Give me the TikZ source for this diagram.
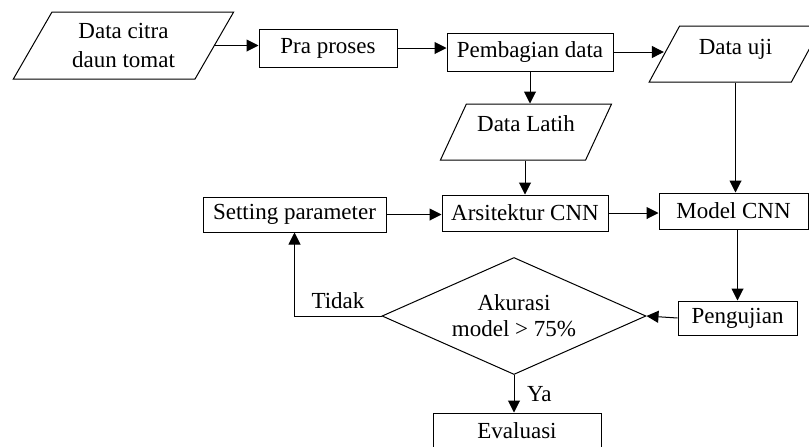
\documentclass[tikz,border=0pt]{standalone}
\usepackage{fontspec}
\setmainfont{Liberation Serif}
\usetikzlibrary{
  arrows.meta,
  shapes.geometric,
  calc
}
\tikzset{
  procnode/.style={draw,rectangle,inner sep=0pt,minimum height=18pt,align=center},
  ionode/.style={draw,trapezium,trapezium left angle=58,trapezium right angle=122,trapezium stretches=true,inner sep=0pt,minimum height=28pt,align=center},
  decnode/.style={draw,diamond,aspect=2.26,inner sep=0pt,align=center},
  flowarrow/.style={-{Triangle[length=6pt,width=6pt]},line width=0.5pt}
}

\begin{document}
\begin{tikzpicture}[x=0.5pt,y=-0.5pt,line width=0.5pt,font=\fontsize{11.5}{14.5}\selectfont]
\clip (0,0) rectangle (809,446);

% top row
\node[ionode, minimum width=110.5pt, minimum height=33.5pt] (citra) at (123.5,45.5) {Data citra\\daun tomat};
\node[procnode, minimum width=69pt, minimum height=19pt] (pra) at (328,48) {Pra proses};
\node[procnode, minimum width=83pt, minimum height=19pt] (bagi) at (530,52) {Pembagian data};
\node[ionode, minimum width=86.5pt, text height=8pt, text depth=8pt] (uji) at (735.5,54) {Data uji};
\node[ionode, minimum width=86pt, text height=8pt, text depth=9pt] (latih) at (526,132) {Data Latih};

% middle row
\node[procnode, minimum width=91.5pt, minimum height=17.5pt] (setting) at (294.5,214.5) {Setting parameter};
\node[procnode, minimum width=83pt] (arsi) at (525,213) {Arsitektur CNN};
\node[procnode, minimum width=74.5pt] (model) at (733.5,211) {Model CNN};

% bottom
\node[procnode, minimum width=59.5pt, minimum height=17pt] (uji2) at (737.5,318) {Pengujian};
\node[decnode, minimum width=132pt, minimum height=58.5pt] (akurasi) at (514,316) {Akurasi\\[-1.5pt]model > 75\%};
\node[procnode, minimum width=84pt] (eval) at (517,431) {Evaluasi};

\draw[flowarrow] (citra.east) -- (citra.east -| pra.west);
\draw[flowarrow] (pra.east) -- (pra.east -| bagi.west);
\draw[flowarrow] (bagi.east) -- (bagi.east -| uji.west);
\draw[flowarrow] (bagi.south) -- (bagi.south |- latih.north);
\draw[flowarrow] (arsi.north |- latih.south) -- (arsi.north);
\draw[flowarrow] (uji.center |- uji.south) -- (uji.center |- model.north);
\draw[flowarrow] (setting.east) -- (setting.east -| arsi.west);
\draw[flowarrow] (arsi.east) -- (arsi.east -| model.west);
\draw[flowarrow] (uji2.north |- model.south) -- (uji2.north);
\draw[flowarrow] (uji2.west) -- (akurasi.east);
\draw[flowarrow] (akurasi.west) -- node[above] (tidak) {Tidak} (setting.south |- akurasi.west) -- (setting.south);
\draw[flowarrow] (akurasi.south) -- node[right=3pt] (ya) {Ya} (akurasi.south |- eval.north);
\end{tikzpicture}
\end{document}
